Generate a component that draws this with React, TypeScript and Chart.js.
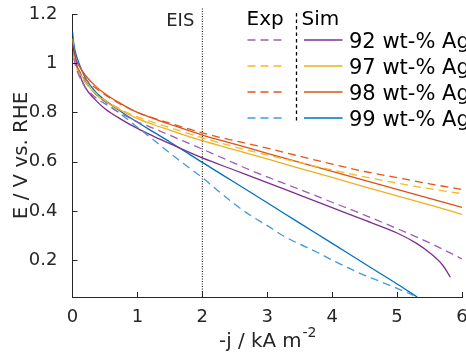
import { useEffect, useRef } from 'react';
import { Chart, registerables } from 'chart.js';

Chart.register(...registerables);

const FONT = '"DejaVu Sans", "Liberation Sans", sans-serif';
const AXIS = '#262626';

const seriesLabels = ['92 wt-% Ag', '97 wt-% Ag', '98 wt-% Ag', '99 wt-% Ag'];
const simColors = ['#7E2F8E', '#EDB120', '#D95319', '#0072BD'];
const expColors = ['#9E5DB0', '#F4B928', '#E2561B', '#3F9CDB'];

const xTicks = [0, 1, 2, 3, 4, 5, 6];
const yTicks = [0.2, 0.4, 0.6, 0.8, 1, 1.2];
const xRange = [0, 6];
const yRange = [0.05, 1.2];

const eisX = 2;
const eisY = [0.05, 1.225];

// Simulation curves
const sim92X = [0, 0.02, 0.05, 0.1, 0.2, 0.35, 0.5, 0.75, 1, 1.25, 1.5, 2, 2.5, 3, 3.5, 4, 4.5, 5, 5.3, 5.5, 5.7, 5.82];
const sim92Y = [1.08, 1.05, 1.01, 0.96, 0.9, 0.852, 0.815, 0.772, 0.735, 0.703, 0.673, 0.615, 0.565, 0.515, 0.464, 0.413, 0.362, 0.31, 0.268, 0.23, 0.18, 0.131];

const sim97X = [0, 0.02, 0.05, 0.1, 0.2, 0.35, 0.5, 0.75, 1, 1.25, 1.5, 2, 2.5, 3, 3.5, 4, 4.5, 5, 5.5, 6];
const sim97Y = [1.1, 1.05, 1.0, 0.97, 0.925, 0.875, 0.845, 0.808, 0.775, 0.75, 0.728, 0.685, 0.648, 0.611, 0.573, 0.536, 0.498, 0.461, 0.424, 0.386];

const sim98X = [0, 0.02, 0.05, 0.1, 0.2, 0.35, 0.5, 0.75, 1, 1.25, 1.5, 2, 2.5, 3, 3.5, 4, 4.5, 5, 5.5, 6];
const sim98Y = [1.1, 1.06, 1.02, 0.99, 0.95, 0.908, 0.876, 0.835, 0.8, 0.775, 0.752, 0.708, 0.671, 0.634, 0.597, 0.56, 0.524, 0.487, 0.451, 0.414];

const sim99X = [0, 0.02, 0.05, 0.1, 0.2, 0.35, 0.5, 0.75, 1, 1.25, 1.5, 2, 2.5, 3, 3.5, 4, 4.5, 5, 5.31];
const sim99Y = [1.13, 1.08, 1.04, 1.0, 0.94, 0.885, 0.85, 0.803, 0.76, 0.72, 0.68, 0.597, 0.515, 0.433, 0.35, 0.268, 0.185, 0.103, 0.05];

// Experimental curves
const exp92X = [0.02, 0.05, 0.1, 0.2, 0.35, 0.5, 0.75, 1, 1.25, 1.5, 1.75, 2, 2.25, 2.5, 2.75, 3, 3.5, 4, 4.5, 5, 5.5, 6];
const exp92Y = [1.02, 0.985, 0.95, 0.9, 0.862, 0.835, 0.795, 0.762, 0.735, 0.707, 0.679, 0.651, 0.622, 0.593, 0.564, 0.538, 0.487, 0.435, 0.383, 0.328, 0.27, 0.205];

const exp97X = [0.02, 0.05, 0.1, 0.2, 0.35, 0.5, 0.75, 1, 1.25, 1.5, 1.75, 2, 2.25, 2.5, 2.75, 3, 3.5, 4, 4.5, 5, 5.5, 6];
const exp97Y = [1.03, 0.99, 0.96, 0.92, 0.88, 0.85, 0.812, 0.782, 0.759, 0.738, 0.717, 0.697, 0.678, 0.66, 0.643, 0.627, 0.596, 0.566, 0.538, 0.513, 0.49, 0.47];

const exp98X = [0.02, 0.05, 0.1, 0.2, 0.35, 0.5, 0.75, 1, 1.25, 1.5, 1.75, 2, 2.25, 2.5, 2.75, 3, 3.5, 4, 4.5, 5, 5.5, 6];
const exp98Y = [1.04, 1.0, 0.97, 0.935, 0.9, 0.872, 0.832, 0.8, 0.777, 0.756, 0.736, 0.717, 0.7, 0.685, 0.67, 0.655, 0.622, 0.59, 0.56, 0.535, 0.51, 0.487];

const exp99X = [0.02, 0.05, 0.1, 0.2, 0.35, 0.5, 0.75, 1, 1.25, 1.5, 1.75, 2, 2.25, 2.5, 2.75, 3, 3.25, 3.5, 3.75, 4, 4.25, 4.5, 4.75, 5, 5.25];
const exp99Y = [1.03, 1.0, 0.97, 0.925, 0.878, 0.843, 0.792, 0.74, 0.688, 0.635, 0.584, 0.535, 0.48, 0.427, 0.38, 0.34, 0.298, 0.265, 0.234, 0.2, 0.168, 0.138, 0.112, 0.085, 0.057];

const simX = [sim92X, sim97X, sim98X, sim99X];
const simY = [sim92Y, sim97Y, sim98Y, sim99Y];
const expX = [exp92X, exp97X, exp98X, exp99X];
const expY = [exp92Y, exp97Y, exp98Y, exp99Y];

const toPts = (xs: number[], ys: number[]) => xs.map((x, i) => ({ x, y: ys[i] }));

const overlay = {
  id: 'overlay',
  afterDraw(chart: any) {
    const { ctx, chartArea, scales } = chart;
    const xs = scales.x;
    const ys = scales.y;
    ctx.save();
    ctx.strokeStyle = AXIS;
    ctx.fillStyle = AXIS;
    ctx.lineWidth = 1;
    ctx.setLineDash([]);
    // inward ticks
    ys.ticks.forEach((t: any) => {
      const p = Math.round(ys.getPixelForValue(t.value)) + 0.5;
      ctx.beginPath();
      ctx.moveTo(chartArea.left, p);
      ctx.lineTo(chartArea.left + 5, p);
      ctx.stroke();
    });
    xs.ticks.forEach((t: any) => {
      if (t.value === xRange[0]) return;
      const p = Math.round(xs.getPixelForValue(t.value)) + 0.5;
      ctx.beginPath();
      ctx.moveTo(p, chartArea.bottom);
      ctx.lineTo(p, chartArea.bottom - 5);
      ctx.stroke();
    });

    // y title
    ctx.save();
    ctx.translate(26.5, (chartArea.top + chartArea.bottom) / 2);
    ctx.rotate(-Math.PI / 2);
    ctx.font = `19.8px ${FONT}`;
    ctx.textAlign = 'center';
    ctx.textBaseline = 'alphabetic';
    ctx.fillText('E / V vs. RHE', 0, 0);
    ctx.restore();

    // x title with superscript
    ctx.textBaseline = 'alphabetic';
    ctx.textAlign = 'left';
    ctx.font = `19.8px ${FONT}`;
    const main = '-j / kA m';
    const mainW = ctx.measureText(main).width;
    ctx.font = `14px ${FONT}`;
    const sup = '-2';
    const supW = ctx.measureText(sup).width;
    const cx = (chartArea.left + chartArea.right) / 2;
    const startX = cx - (mainW + supW) / 2;
    ctx.font = `19.8px ${FONT}`;
    ctx.fillText(main, startX, 346.5);
    ctx.font = `14px ${FONT}`;
    ctx.fillText(sup, startX + mainW + 1, 337);

    // EIS label
    ctx.font = `18px ${FONT}`;
    ctx.textAlign = 'right';
    ctx.fillText('EIS', xs.getPixelForValue(eisX) - 8, 26);

    // Legend
    const expLeft = 247.5;
    const expRight = 286.5;
    const simLeft = 304;
    const simRight = 342.5;
    const sepX = 296.5;
    ctx.font = `20px ${FONT}`;
    ctx.textAlign = 'left';
    ctx.fillStyle = '#000';
    ctx.fillText('Exp', 246.5, 25);
    ctx.fillText('Sim', 301.5, 25);
    ctx.setLineDash([3.5, 3]);
    ctx.strokeStyle = '#000';
    ctx.lineWidth = 1.3;
    ctx.beginPath();
    ctx.moveTo(sepX, 13);
    ctx.lineTo(sepX, 122);
    ctx.stroke();
    ctx.font = `21px ${FONT}`;
    seriesLabels.forEach((lab, i) => {
      const y = 40 + i * 26;
      ctx.lineWidth = 1.3;
      ctx.setLineDash([8, 5]);
      ctx.strokeStyle = expColors[i];
      ctx.beginPath();
      ctx.moveTo(expLeft, y);
      ctx.lineTo(expRight, y);
      ctx.stroke();
      ctx.setLineDash([]);
      ctx.strokeStyle = simColors[i];
      ctx.beginPath();
      ctx.moveTo(simLeft, y);
      ctx.lineTo(simRight, y);
      ctx.stroke();
      ctx.fillStyle = '#000';
      ctx.fillText(lab, 349, y + 7.7);
    });
    ctx.restore();
  },
};

export default function App() {
  const ref = useRef<HTMLCanvasElement | null>(null);
  useEffect(() => {
    document.body.style.margin = '0';
    if (!ref.current) return;
    const datasets: any[] = [];
    seriesLabels.forEach((lab, i) => {
      datasets.push({
        label: 'Exp ' + lab,
        data: toPts(expX[i], expY[i]),
        borderColor: expColors[i],
        borderWidth: 1.3,
        borderDash: [8, 5],
        pointRadius: 0,
        cubicInterpolationMode: 'monotone',
        fill: false,
      });
    });
    seriesLabels.forEach((lab, i) => {
      datasets.push({
        label: 'Sim ' + lab,
        data: toPts(simX[i], simY[i]),
        borderColor: simColors[i],
        borderWidth: 1.3,
        pointRadius: 0,
        cubicInterpolationMode: 'monotone',
        fill: false,
      });
    });
    datasets.push({
      label: 'EIS',
      data: [{ x: eisX, y: eisY[0] }, { x: eisX, y: eisY[1] }],
      borderColor: '#000',
      borderWidth: 1,
      borderDash: [1, 1.5],
      pointRadius: 0,
      clip: false,
      fill: false,
    });

    const chart = new Chart(ref.current, {
      type: 'line',
      data: { datasets },
      plugins: [overlay],
      options: {
        animation: false,
        responsive: true,
        maintainAspectRatio: false,
        layout: { padding: { left: 0, top: 14, right: 4, bottom: 0 } },
        plugins: { legend: { display: false }, tooltip: { enabled: false } },
        elements: { point: { radius: 0 } },
        scales: {
          x: {
            type: 'linear',
            min: xRange[0],
            max: xRange[1],
            grid: { display: false },
            border: { display: true, color: AXIS, width: 1 },
            afterBuildTicks: (s: any) => {
              s.ticks = xTicks.map((v) => ({ value: v }));
            },
            afterFit: (s: any) => {
              s.height = 58;
              s.paddingLeft = 0;
              s.paddingRight = 0;
            },
            ticks: {
              color: AXIS,
              font: { family: FONT, size: 18 },
              padding: 2,
              maxRotation: 0,
              autoSkip: false,
              callback: (v: any) => String(v),
            },
          },
          y: {
            type: 'linear',
            min: yRange[0],
            max: yRange[1],
            grid: { display: false },
            border: { display: true, color: AXIS, width: 1 },
            afterBuildTicks: (s: any) => {
              s.ticks = yTicks.map((v) => ({ value: v }));
            },
            afterFit: (s: any) => {
              s.width = 72.5;
              s.paddingTop = 0;
              s.paddingBottom = 0;
            },
            ticks: {
              color: AXIS,
              font: { family: FONT, size: 18 },
              padding: 7,
              autoSkip: false,
              callback: (v: any) => String(Math.round(v * 10) / 10),
            },
          },
        },
      } as any,
    });
    return () => chart.destroy();
  }, []);
  return (
    <div style={{ width: 466, height: 355, position: 'relative' }}>
      <canvas ref={ref} />
    </div>
  );
}
